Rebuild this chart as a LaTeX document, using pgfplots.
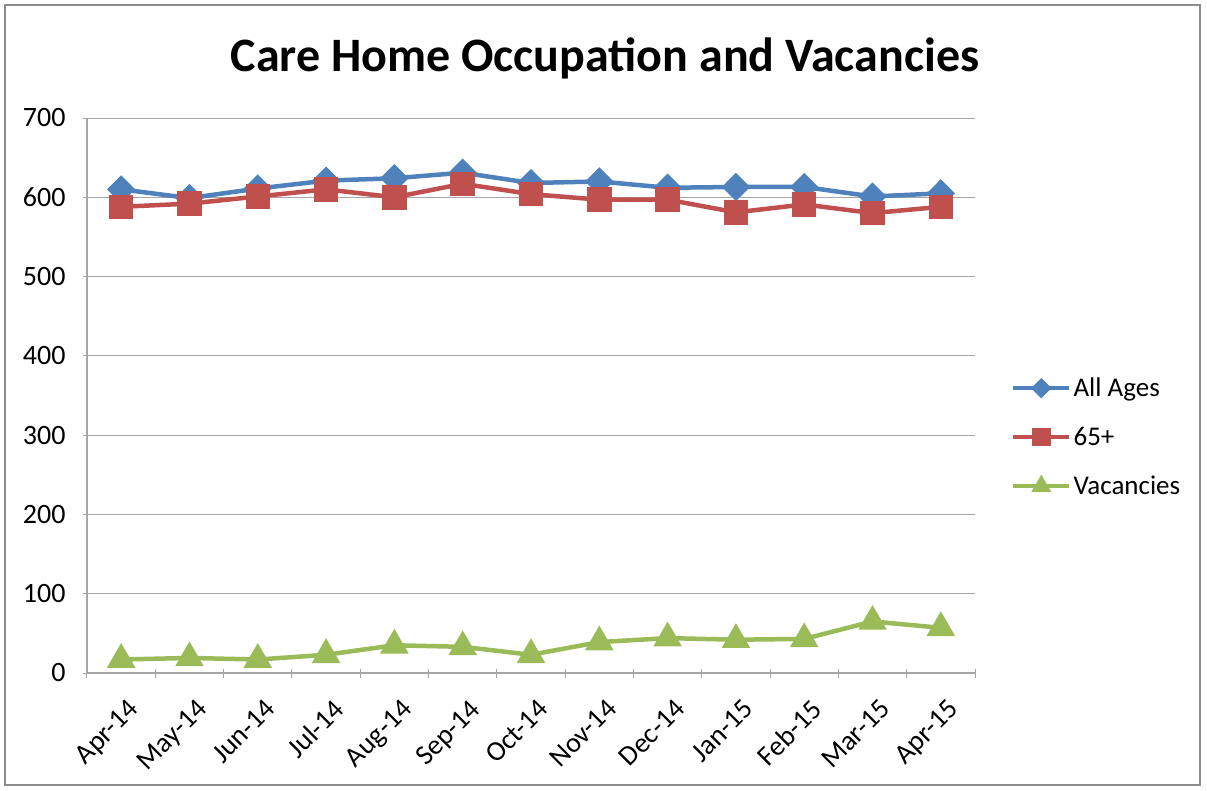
\documentclass[border=0pt]{standalone}
\usepackage{pgfplots}
\pgfplotsset{compat=1.18}
\usepackage{fontspec}
\setmainfont{Carlito}
\definecolor{cblue}{HTML}{4F81BD}
\definecolor{cred}{HTML}{C0504D}
\definecolor{cgreen}{HTML}{9BBB59}
\definecolor{cgrid}{HTML}{A6A6A6}
\begin{document}
\begin{tikzpicture}
\path (-87pt,-117pt) rectangle (1120pt,673pt);
\draw[color=gray!90, line width=1.5pt] (-82pt,-112pt) rectangle (1113pt,668pt);
\node[font=\fontsize{48}{55}\selectfont\bfseries] at (518pt,615pt) {Care Home Occupation and Vacancies};
\begin{axis}[
  at={(0pt,0pt)}, anchor=south west,
  scale only axis, width=888pt, height=555pt,
  xmin=-0.5, xmax=12.5, ymin=0, ymax=700,
  ytick={0,100,...,700},
  xtick={0,...,12},
  xticklabels={Apr-14,May-14,Jun-14,Jul-14,Aug-14,Sep-14,Oct-14,Nov-14,Dec-14,Jan-15,Feb-15,Mar-15,Apr-15},
  minor xtick={-0.5,0.5,...,12.5},
  major x tick style={draw=none},
  minor tick length=9pt,
  major tick length=8pt,
  tick align=outside,
  tick style={cgrid, line width=1pt},
  axis x line=bottom, axis y line=left,
  axis line style={-, cgrid, line width=1.2pt},
  ymajorgrids, grid style={cgrid, line width=1pt},
  /pgf/number format/assume math mode=true,
  tick label style={font=\fontsize{28}{32}\selectfont},
  yticklabel style={xshift=-14pt},
  xticklabel style={xshift=6pt, yshift=-18pt, rotate=45, anchor=north east, inner sep=2pt},
  legend style={at={(1.037,0.425)}, anchor=west, draw=none, fill=none,
    font=\fontsize{27}{31}\selectfont, row sep=25pt,
    legend cell align=left},
  legend image code/.code={\draw[mark repeat=2,mark phase=2,mark size=7pt] plot coordinates {(0pt,0pt) (28pt,0pt) (56pt,0pt)};},
  clip=false,
]
\addplot[cblue, line width=4.5pt, mark=diamond*, mark size=11pt, mark options={xscale=1.33, solid}] coordinates {
(0,610) (1,599) (2,611) (3,621) (4,624) (5,631) (6,618) (7,620) (8,612) (9,613) (10,613) (11,601) (12,605)};
\addlegendentry{All Ages}
\addplot[cred, line width=4.5pt, mark=square*, mark size=10pt] coordinates {
(0,588) (1,592) (2,601) (3,610) (4,600) (5,617) (6,604) (7,597) (8,597) (9,581) (10,591) (11,580) (12,588)};
\addlegendentry{65+}
\addplot[cgreen, line width=4.5pt, mark=triangle*, mark size=12pt] coordinates {
(0,17) (1,19) (2,17) (3,23) (4,35) (5,33) (6,23) (7,39) (8,44) (9,42) (10,43) (11,65) (12,57)};
\addlegendentry{Vacancies}
\end{axis}
\end{tikzpicture}
\end{document}
